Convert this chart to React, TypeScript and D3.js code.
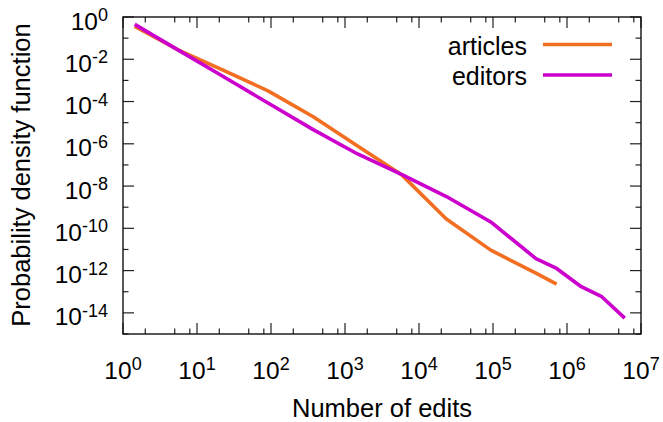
import React from "react";
import * as d3 from "d3";

const articlesX = [1.44, 5.75, 22.9, 91.2, 372, 1479, 5888, 23442, 93325, 380189, 724436];
const articlesY = [0.36, 0.026, 3.0e-3, 3.2e-4, 1.9e-5, 7.9e-7, 3.3e-8, 2.75e-10, 9.3e-12, 7.6e-13, 2.3e-13];

const editorsX = [1.44, 5.75, 22.9, 91.2, 372, 1479, 5888, 23442, 93325, 380189, 724436, 1.51e6, 2.95e6, 6.03e6];
const editorsY = [0.45, 0.0257, 1.48e-3, 8.5e-5, 4.7e-6, 3.3e-7, 3.5e-8, 3.2e-9, 2.0e-10, 3.7e-12, 1.26e-12, 1.86e-13, 5.8e-14, 5.6e-15];

const seriesNames = ["articles", "editors"];
const seriesColors = ["#f26f21", "#cc00cc"];

const xTickExps = [0, 1, 2, 3, 4, 5, 6, 7];
const yTickExps = [0, -2, -4, -6, -8, -10, -12, -14];
const yMinorExps = [-1, -3, -5, -7, -9, -11, -13, -15];
const xMinorMult = [2, 5, 8];

const W = 663, H = 422;
const M = { left: 123, right: 641, top: 17, bottom: 334 };
const FONT = "'Liberation Sans', Arial, Helvetica, sans-serif";

export default function App() {
  const x = d3.scaleLog().domain([1, 1e7]).range([M.left, M.right]);
  const y = d3.scaleLog().domain([1e-15, 1]).range([M.bottom, M.top]);
  const line = d3
    .line<[number, number]>()
    .x((d) => x(d[0]))
    .y((d) => y(d[1]));

  const series = [
    articlesX.map((v, i) => [v, articlesY[i]] as [number, number]),
    editorsX.map((v, i) => [v, editorsY[i]] as [number, number]),
  ];

  const tickColor = "#222";
  const majorLen = 11;
  const minorLen = 5.5;

  const xMinor: number[] = [];
  for (let e = 0; e < 7; e++) for (const m of xMinorMult) xMinor.push(m * Math.pow(10, e));

  return (
    <svg
      width={W}
      height={H}
      style={{ position: "absolute", left: 0, top: 0, background: "#fff" }}
      fontFamily={FONT}
    >
      <rect x={0} y={0} width={W} height={H} fill="#fff" />
      {/* x ticks */}
      {xTickExps.map((e) => {
        const px = x(Math.pow(10, e));
        return (
          <g key={"xt" + e}>
            <line x1={px} x2={px} y1={M.bottom} y2={M.bottom - majorLen} stroke={tickColor} strokeWidth={1.2} />
            <line x1={px} x2={px} y1={M.top} y2={M.top + majorLen} stroke={tickColor} strokeWidth={1.2} />
            <text x={px} y={379} textAnchor="middle" fontSize={24.5} fill="#000">
              10
              <tspan dy={-9} fontSize={18}>{e}</tspan>
            </text>
          </g>
        );
      })}
      {xMinor.map((v, i) => {
        const px = x(v);
        return (
          <g key={"xm" + i}>
            <line x1={px} x2={px} y1={M.bottom} y2={M.bottom - minorLen} stroke={tickColor} strokeWidth={1.2} />
            <line x1={px} x2={px} y1={M.top} y2={M.top + minorLen} stroke={tickColor} strokeWidth={1.2} />
          </g>
        );
      })}
      {/* y ticks */}
      {yTickExps.map((e) => {
        const py = y(Math.pow(10, e));
        return (
          <g key={"yt" + e}>
            <line x1={M.left} x2={M.left + majorLen} y1={py} y2={py} stroke={tickColor} strokeWidth={1.2} />
            <line x1={M.right} x2={M.right - majorLen} y1={py} y2={py} stroke={tickColor} strokeWidth={1.2} />
            <text x={108} y={py + 12.6} textAnchor="end" fontSize={24.5} fill="#000">
              10
              <tspan dy={-8.5} fontSize={18}>{e}</tspan>
            </text>
          </g>
        );
      })}
      {yMinorExps.map((e) => {
        const py = y(Math.pow(10, e));
        return (
          <g key={"ym" + e}>
            <line x1={M.left} x2={M.left + minorLen} y1={py} y2={py} stroke={tickColor} strokeWidth={1.2} />
            <line x1={M.right} x2={M.right - minorLen} y1={py} y2={py} stroke={tickColor} strokeWidth={1.2} />
          </g>
        );
      })}
      {/* lines */}
      {series.map((s, i) => (
        <path
          key={"s" + i}
          d={line(s) || ""}
          fill="none"
          stroke={seriesColors[i]}
          strokeWidth={3.6}
          strokeLinejoin="round"
        />
      ))}
      {/* frame */}
      <rect
        x={M.left}
        y={M.top}
        width={M.right - M.left}
        height={M.bottom - M.top}
        fill="none"
        stroke="#111"
        strokeWidth={1.4}
      />
      {/* legend */}
      {seriesNames.map((n, i) => {
        const ly = 44.5 + i * 30.5;
        return (
          <g key={"lg" + i}>
            <text x={527} y={ly + 10} textAnchor="end" fontSize={25} fill="#000">
              {n}
            </text>
            <line x1={543} x2={612} y1={ly} y2={ly} stroke={seriesColors[i]} strokeWidth={3.6} />
          </g>
        );
      })}
      {/* axis titles */}
      <text x={382} y={416.5} textAnchor="middle" fontSize={25.5} fill="#000">
        Number of edits
      </text>
      <text
        transform={`translate(30,175) rotate(-90)`}
        textAnchor="middle"
        fontSize={25.5}
        fill="#000"
      >
        Probability density function
      </text>
    </svg>
  );
}
